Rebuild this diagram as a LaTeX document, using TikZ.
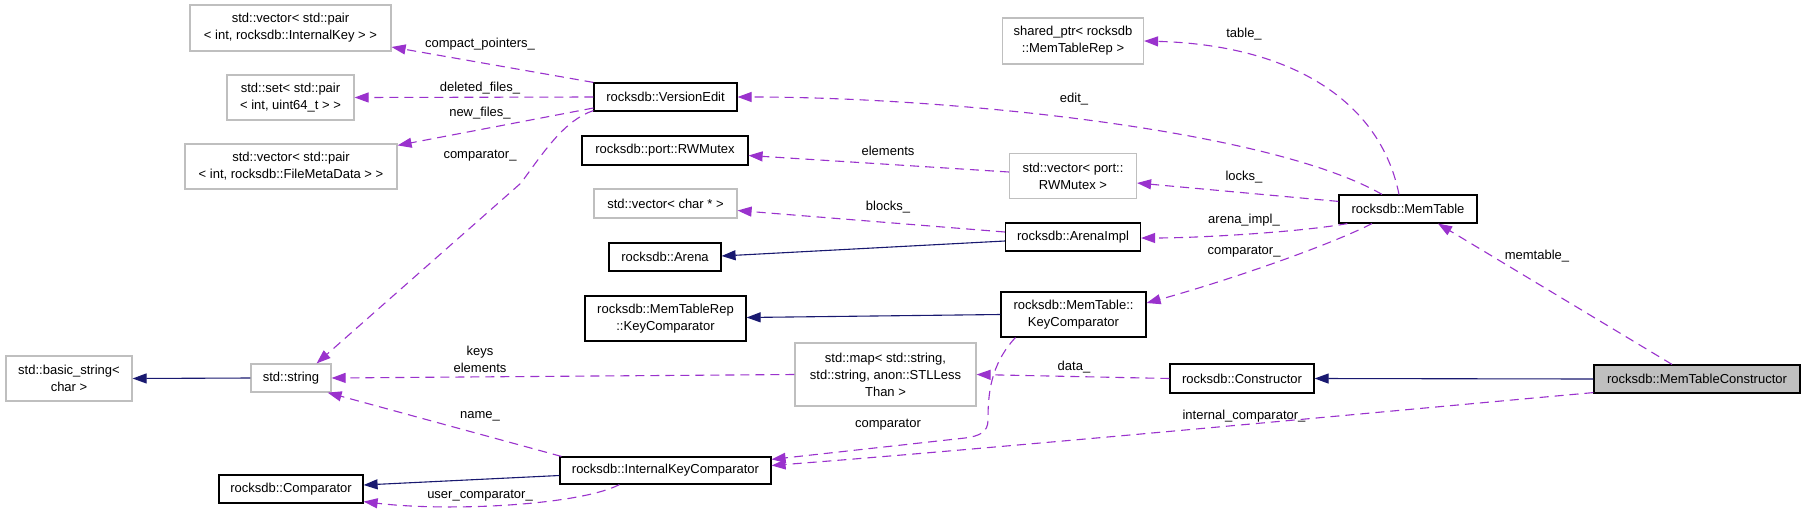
\documentclass[tikz,border=0pt]{standalone}
\usepackage{fontspec}
\setmainfont{Liberation Sans}
\usetikzlibrary{arrows.meta,calc}
\definecolor{depc}{HTML}{9A32CD}
\definecolor{inhc}{HTML}{191970}
\definecolor{gbord}{HTML}{BFBFBF}
\begin{document}
\begin{tikzpicture}[x=1pt,y=-1pt,
  every node/.style={font=\fontsize{13}{17}\selectfont, inner sep=0pt},
  sz/.style 2 args={minimum width=#1pt, minimum height=#2pt},
  cls/.style={draw=black, line width=1.2pt, fill=white, align=center},
  ext/.style={draw=gbord, line width=1.2pt, fill=white, align=center},
  cur/.style={draw=black, line width=1.2pt, fill=gbord, align=center},
  dep/.style={draw=depc, line width=1.1pt, dash pattern=on 9pt off 6pt,
              -{Triangle[length=14pt,width=10pt,fill=depc]}},
  inh/.style={draw=inhc, line width=1.1pt,
              -{Triangle[length=14pt,width=10pt,fill=inhc]}},
  lbl/.style={fill=none, align=center}]
\fill[white] (0,0) rectangle (1805,515);
\useasboundingbox (0,0) rectangle (1805,515);

% nodes
\node[ext, sz={201}{46}] (vik) at (290.5,28) {std::vector< std::pair\\< int, rocksdb::InternalKey > >};
\node[ext, sz={127}{45}] (setp) at (290.5,97.5) {std::set< std::pair\\< int, uint64\_t > >};
\node[ext, sz={212}{45}] (vfm) at (291,166.5) {std::vector< std::pair\\< int, rocksdb::FileMetaData > >};
\node[cls, sz={143}{28}] (ve) at (665.5,97) {rocksdb::VersionEdit};
\node[cls, sz={166}{29}] (rwm) at (665,150.5) {rocksdb::port::RWMutex};
\node[ext, sz={143}{29}] (vch) at (665.5,203.5) {std::vector< char * >};
\node[cls, sz={112}{28}] (arena) at (665,257) {rocksdb::Arena};
\node[cls, sz={161}{45}] (mtrkc) at (665.5,318.5) {rocksdb::MemTableRep\\::KeyComparator};
\node[ext, sz={126}{45}] (bstr) at (69,378.5) {std::basic\_string<\\char >};
\node[ext, sz={80}{28}] (str) at (291,378) {std::string};
\node[cls, sz={211}{27}] (ikc) at (665.5,470.5) {rocksdb::InternalKeyComparator};
\node[cls, sz={144}{28}] (cmp) at (291,489) {rocksdb::Comparator};
\node[ext, sz={141}{46}] (sp) at (1073,41) {shared\_ptr< rocksdb\\::MemTableRep >};
\node[ext, sz={127}{45}] (vrw) at (1073,176) {std::vector< port::\\RWMutex >};
\node[cls, sz={138}{28}] (mt) at (1408,209) {rocksdb::MemTable};
\node[cls, sz={135}{28}] (ai) at (1073,237) {rocksdb::ArenaImpl};
\node[cls, sz={145}{45}] (mtkc) at (1073.5,314.5) {rocksdb::MemTable::\\KeyComparator};
\node[ext, sz={181}{63}] (map) at (885.5,374.5) {std::map< std::string,\\std::string, anon::STLLess\\Than >};
\node[cls, sz={144}{29}] (con) at (1242,378.5) {rocksdb::Constructor};
\node[cur, sz={206}{28}] (mtc) at (1697,379) {rocksdb::MemTableConstructor};

% inheritance
\draw[inh] (str.west) -- (bstr.east);
\draw[inh] ($(ai.west)+(0,4)$) -- ($(arena.east)+(0,-1)$);
\draw[inh] (mtkc.west) -- ($(mtrkc.east)+(0,-1)$);
\draw[inh] (mtc.west) -- (con.east);
\draw[inh] ($(ikc.west)+(0,5)$) -- ($(cmp.east)+(0,-4)$);

% dependencies
\draw[dep] (ve.north west) -- ($(vik.east)+(0,19)$);
\draw[dep] (ve.west) -- (setp.east);
\draw[dep] ($(ve.west)+(0,11)$) -- ($(vfm.north east)+(0,2)$);
\draw[dep] ($(ve.south west)+(0,-1)$) .. controls (565,120) and (545,150) .. (521,183) -- ($(str.north east)+(-15,0)$);
\draw[dep] ($(mt.north)+(-26,0)$) .. controls (1270,130) and (950,97) .. (ve.east);
\draw[dep] ($(mt.north)+(-9,0)$) .. controls (1380,100) and (1290,45) .. (sp.east);
\draw[dep] ($(vrw.west)+(0,-4)$) -- ($(rwm.east)+(0,5)$);
\draw[dep] ($(mt.north west)+(0,7)$) -- ($(vrw.east)+(0,7)$);
\draw[dep] ($(ai.west)+(0,-5)$) -- ($(vch.east)+(0,7)$);
\draw[dep] ($(mt.south west)+(9,0)$) .. controls (1300,232) and (1200,238) .. ($(ai.east)+(0,1)$);
\draw[dep] ($(mt.south)+(-36,0)$) .. controls (1330,245) and (1230,280) .. ($(mtkc.east)+(0,-11.5)$);
\draw[dep] ($(mtkc.south west)+(15,0)$) .. controls (990,365) and (988,395) .. (988,420) .. controls (988,432) and (980,436) .. (965,438) -- ($(ikc.north east)+(0,3)$);
\draw[dep] (con.west) -- (map.east);
\draw[dep] (map.west) -- (str.east);
\draw[dep] ($(mtc.south west)+(0,-1)$) .. controls (1400,410) and (1000,448) .. ($(ikc.east)+(0,-5)$);
\draw[dep] ($(mtc.north)+(-25,0)$) -- ($(mt.south)+(30,0)$);
\draw[dep] ($(ikc.north west)+(2,0)$) -- ($(str.south east)+(-4,0)$);
\draw[dep] ($(ikc.south west)+(60,0)$) .. controls (580,505) and (450,512) .. ($(cmp.south east)+(0,-2)$);

% labels
\node[lbl] (l1) at (480,44) {compact\_pointers\_};
\node[lbl] (l2) at (480,88) {deleted\_files\_};
\node[lbl] (l3) at (480,113) {new\_files\_};
\node[lbl] (l4) at (480,156) {comparator\_};
\node[lbl] (l5) at (1074,99) {edit\_};
\node[lbl] (l6) at (1244,34) {table\_};
\node[lbl] (l7) at (888,151) {elements};
\node[lbl] (l8) at (1244,177) {locks\_};
\node[lbl] (l9) at (888,207) {blocks\_};
\node[lbl] (l10) at (1244,220) {arena\_impl\_};
\node[lbl] (l11) at (1244,252) {comparator\_};
\node[lbl] (l12) at (888,425) {comparator};
\node[lbl] (l13) at (1074,367) {data\_};
\node[lbl] (l14) at (480,359.5) {keys\\elements};
\node[lbl] (l15) at (1244,416) {internal\_comparator\_};
\node[lbl] (l16) at (1537,256) {memtable\_};
\node[lbl] (l17) at (480,416) {name\_};
\node[lbl] (l18) at (480,496) {user\_comparator\_};
\end{tikzpicture}
\end{document}
